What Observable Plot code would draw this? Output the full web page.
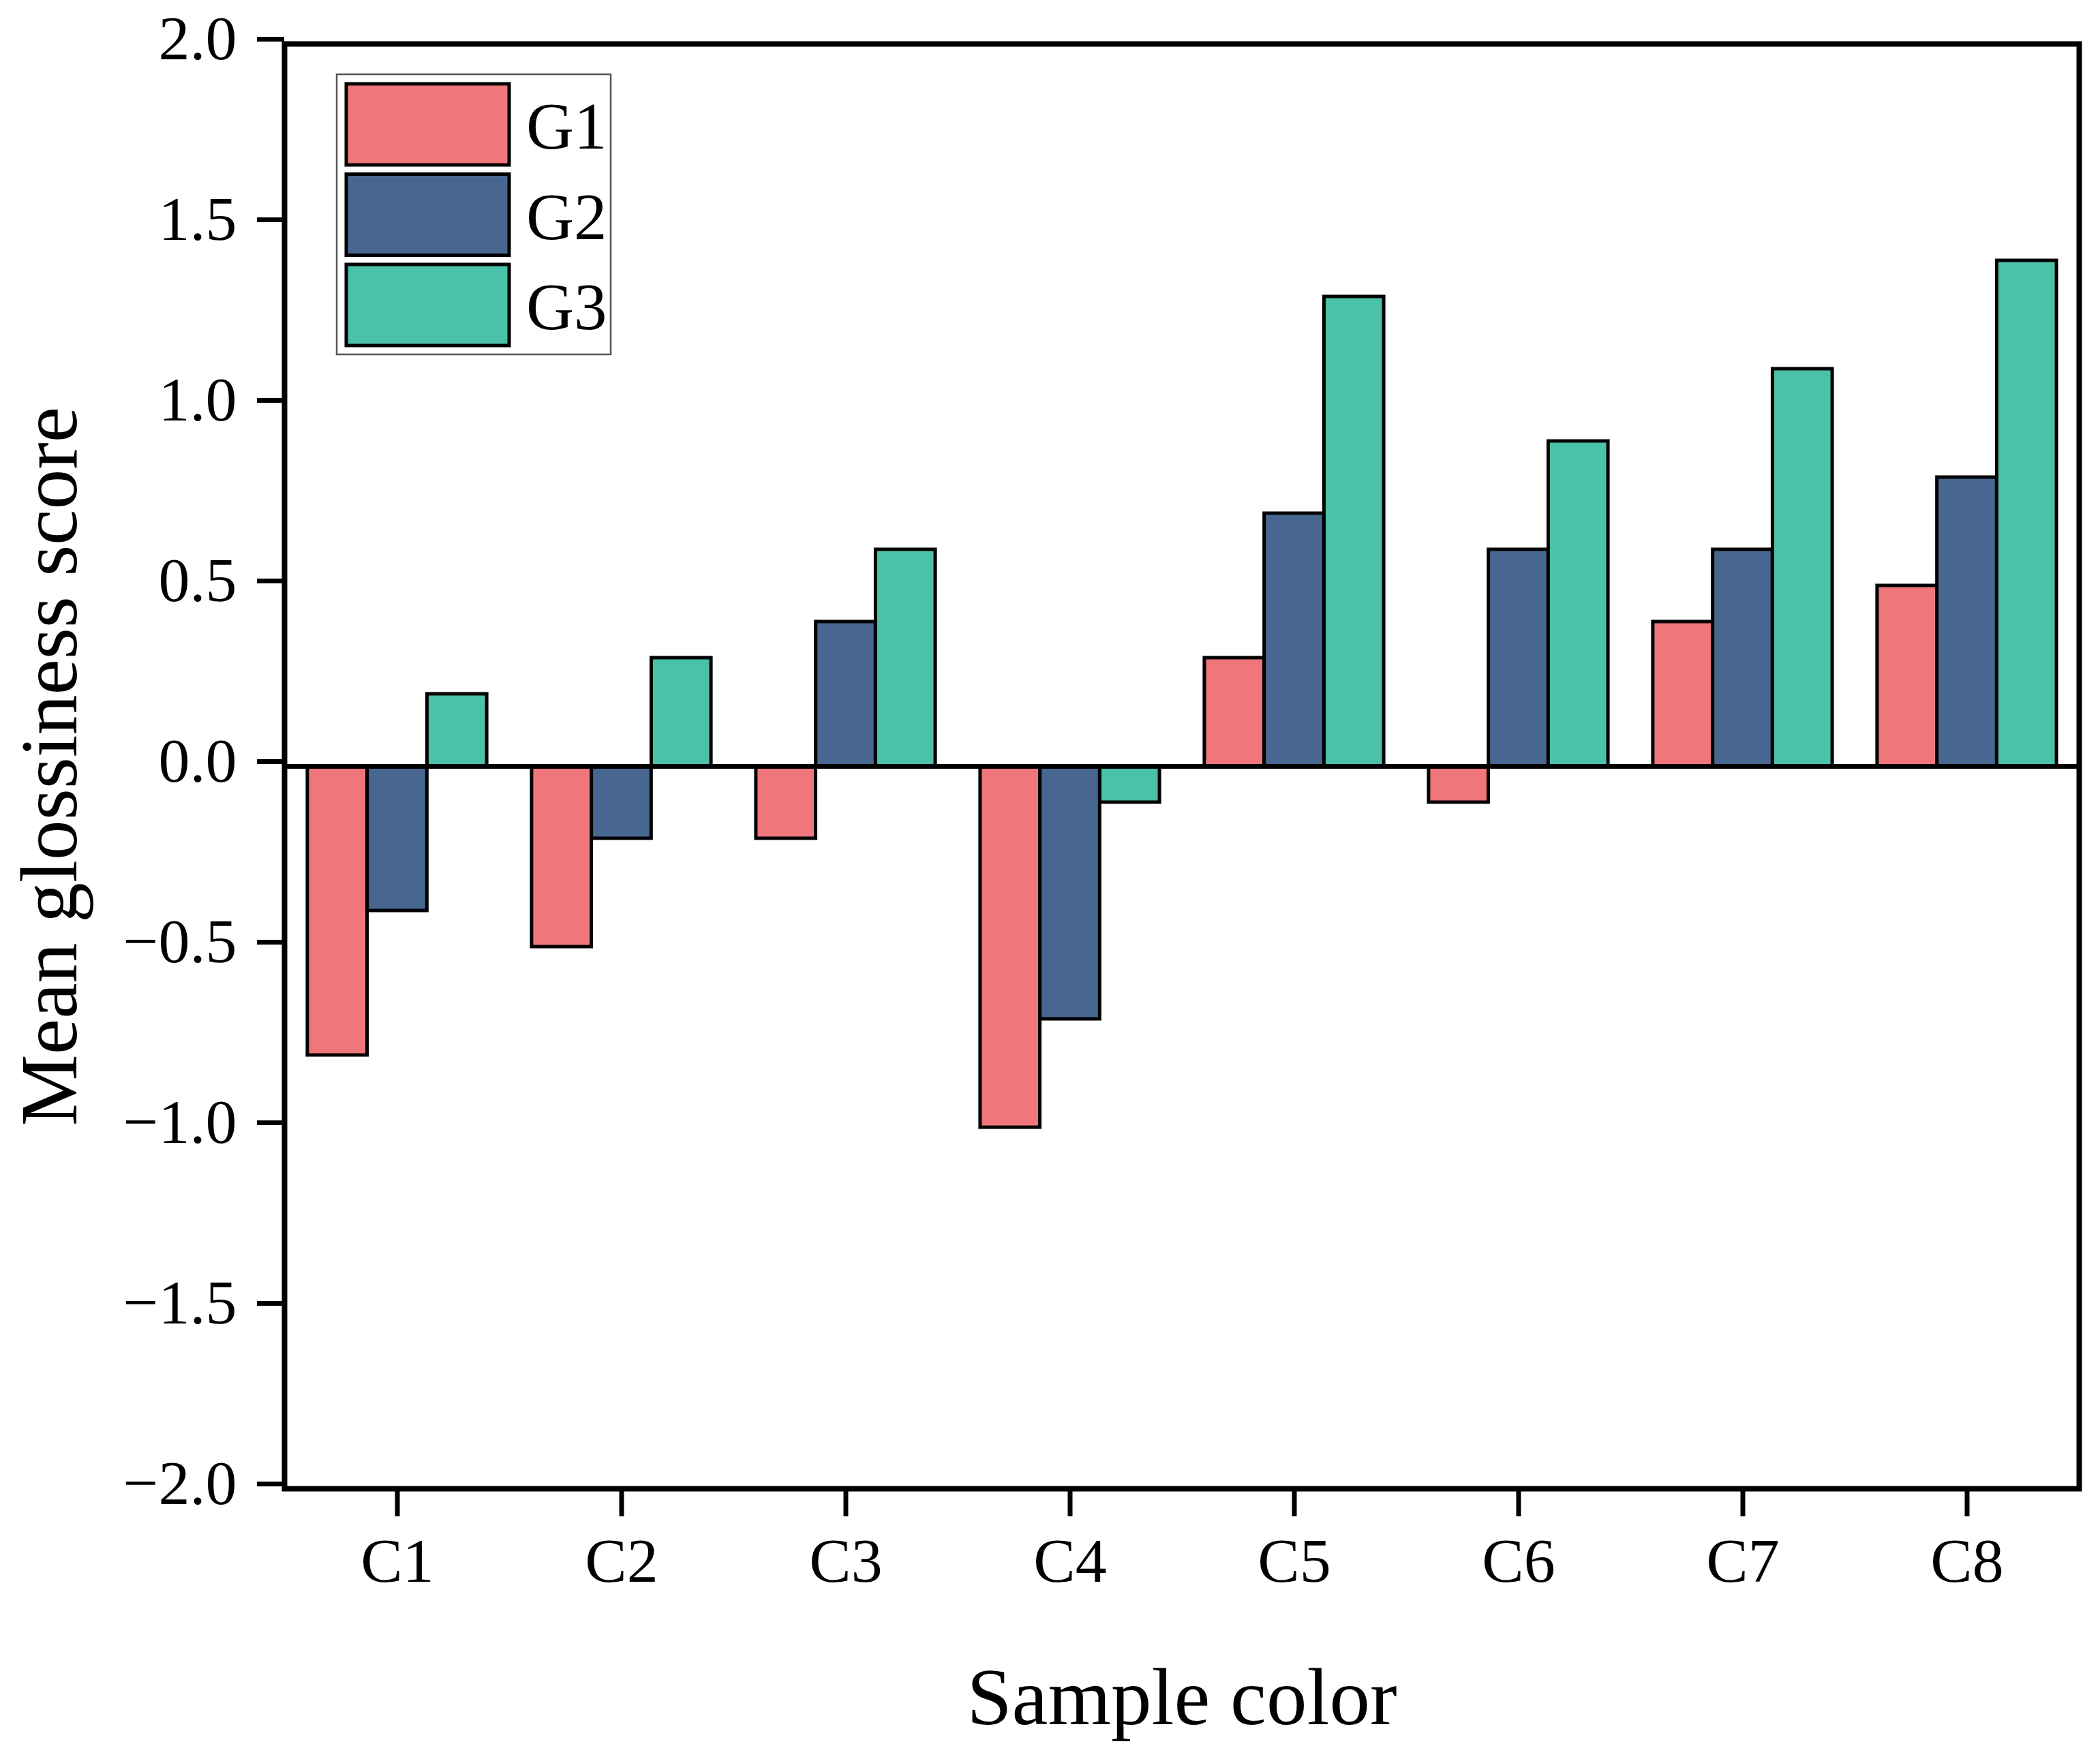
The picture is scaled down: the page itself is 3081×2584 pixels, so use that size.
<!DOCTYPE html>
<html>
<head>
<meta charset="utf-8">
<script src="https://cdn.jsdelivr.net/npm/d3@7"></script>
<script src="https://cdn.jsdelivr.net/npm/@observablehq/plot@0.6"></script>
<style>
  html, body { margin: 0; padding: 0; background: #fff; }
  #chart { width: 3081px; height: 2584px; }
</style>
</head>
<body>
<div id="chart"></div>
<script>
// values
var categories = ["C1", "C2", "C3", "C4", "C5", "C6", "C7", "C8"];
var groups = ["G1", "G2", "G3"];
var g1 = [-0.8, -0.5, -0.2, -1.0, 0.3, -0.1, 0.4, 0.5];
var g2 = [-0.4, -0.2, 0.4, -0.7, 0.7, 0.6, 0.6, 0.8];
var g3 = [0.2, 0.3, 0.6, -0.1, 1.3, 0.9, 1.1, 1.4];
var yTicks = [-2, -1.5, -1, -0.5, 0, 0.5, 1, 1.5, 2];
var colors = ["#ef767b", "#476791", "#4ac1a9"];

var series = [g1, g2, g3];
var rows = [];
groups.forEach(function (g, i) {
    categories.forEach(function (c, j) {
        rows.push({ cat: c, group: g, value: series[i][j] });
    });
});

var width = 3081, height = 2584;
var margin = { top: 64, right: 31, bottom: 400, left: 417 };
var bw = (width - margin.left - margin.right) / categories.length;
var barW = bw * 0.8 / groups.length;
var font = "'Liberation Serif', 'Times New Roman', serif";

var bars = groups.map(function (g, i) {
    var left = bw * 0.1 + i * barW;
    return Plot.barY(rows.filter(d => d.group === g), {
        x: "cat",
        y: "value",
        fill: "group",
        stroke: "black",
        strokeWidth: 5,
        insetLeft: left,
        insetRight: bw - left - barW
    });
});

var chart = Plot.plot({
    width: width,
    height: height,
    marginTop: margin.top,
    marginRight: margin.right,
    marginBottom: margin.bottom,
    marginLeft: margin.left,
    style: { fontFamily: font, color: "black", background: "white" },
    x: { type: "band", domain: categories, padding: 0 },
    y: { domain: [-2, 2] },
    color: { domain: groups, range: colors },
    marks: bars.concat([
        Plot.ruleY([0], { stroke: "black", strokeWidth: 7 }),
        Plot.frame({ stroke: "black", strokeWidth: 8 }),
        Plot.axisY({
            ticks: yTicks,
            tickFormat: d3.format(".1f"),
            tickSize: 40,
            tickPadding: 30,
            strokeWidth: 7,
            fontSize: 92,
            dy: -7,
            label: null
        }),
        Plot.axisX({
            tickSize: 41,
            tickPadding: 30,
            strokeWidth: 7,
            fontSize: 92,
            label: null
        }),
        Plot.text(["Sample color"], {
            frameAnchor: "bottom",
            dy: 307,
            fontSize: 119,
            lineAnchor: "middle",
            textAnchor: "middle"
        }),
        Plot.text(["Mean glossiness score"], {
            frameAnchor: "left",
            dx: -343,
            rotate: -90,
            fontSize: 118,
            lineAnchor: "middle",
            textAnchor: "middle"
        })
    ])
});

d3.select("#chart").append(() => chart);

// legend box drawn into the same svg, top-left inside the frame
var svg = d3.select(chart);
var lg = svg.append("g")
    .attr("font-family", font)
    .attr("text-anchor", "start");
lg.append("rect")
    .attr("x", 494).attr("y", 109)
    .attr("width", 402).attr("height", 411)
    .attr("fill", "white").attr("stroke", "#555").attr("stroke-width", 2.5);
groups.forEach(function (g, i) {
    var y0 = 123 + i * 132.5;
    lg.append("rect")
        .attr("x", 508).attr("y", y0)
        .attr("width", 239).attr("height", 119)
        .attr("fill", colors[i]).attr("stroke", "black").attr("stroke-width", 5);
    lg.append("text")
        .attr("x", 772).attr("y", y0 + 95)
        .attr("font-size", 97)
        .attr("fill", "black")
        .text(g);
});
</script>
</body>
</html>
